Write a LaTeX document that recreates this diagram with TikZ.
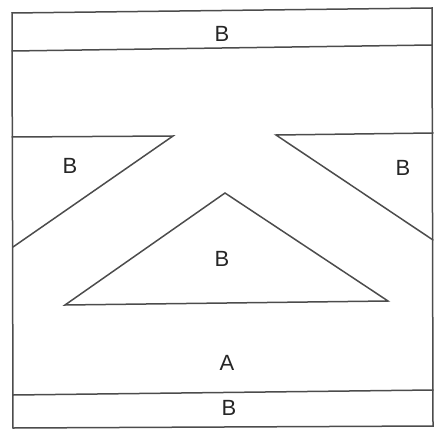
\documentclass[tikz,border=0pt]{standalone}
\usepackage{fontspec}
\setmainfont{Liberation Sans}
\usepackage{tikz}

\begin{document}
\begin{tikzpicture}[x=1pt,y=-1pt,font=\fontsize{22}{24}\selectfont,line cap=round,
  wall/.style={black!70,line width=1.5pt},
  zone/.style={inner sep=0pt,text=black!85}]
\useasboundingbox (0,0) rectangle (435,430);
% outer frame
\draw[wall] (12,13) -- (432,8) -- (433,426) -- (13,428) -- cycle;
% strips top and bottom
\draw[wall] (12,51) -- (432,45);
\draw[wall] (13,395) -- (433,390);
% side wedges
\draw[wall] (12,137) -- (173,136) -- (13,247);
\draw[wall] (433,133) -- (276,135) -- (433,240);
% middle triangle
\draw[wall] (225,193) -- (388,301) -- (65,305) -- cycle;
% labels
\node[zone] (btop) at (222,34) {B};
\node[zone] (bleft) at (70,166) {B};
\node[zone] (bright) at (403,168) {B};
\node[zone] (bmid) at (222,259) {B};
\node[zone] (a) at (227,363) {A};
\node[zone] (bbot) at (229,408) {B};
\end{tikzpicture}
\end{document}
